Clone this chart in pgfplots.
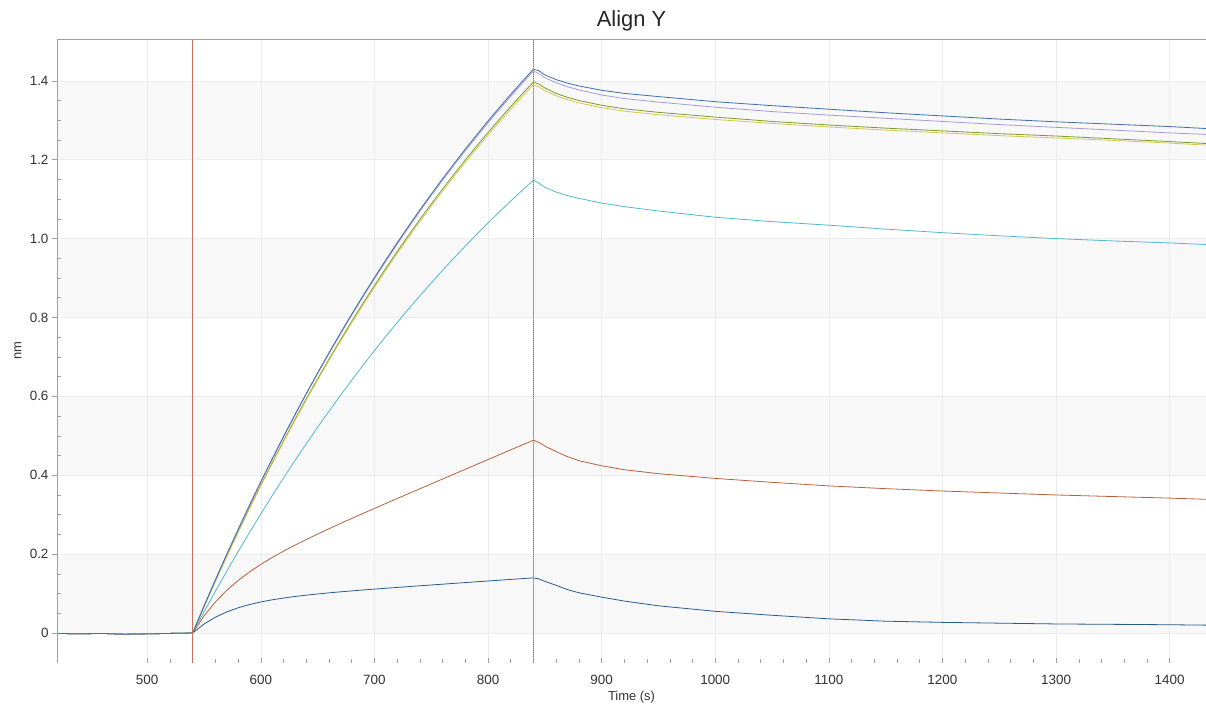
\documentclass[border=0pt]{standalone}
\usepackage{fontspec}
\setmainfont{Liberation Sans}
\usepackage{pgfplots}
\pgfplotsset{compat=1.18}
\definecolor{cBlue}{HTML}{3D6FA8}
\definecolor{cPurple}{HTML}{A898D8}
\definecolor{cGreen}{HTML}{7A9A30}
\definecolor{cYellow}{HTML}{D4C84A}
\definecolor{cCyan}{HTML}{50B8D0}
\definecolor{cOrange}{HTML}{B8603C}
\definecolor{cNavy}{HTML}{2A5A8A}
\definecolor{cBand}{HTML}{F8F8F8}
\definecolor{cGrid}{HTML}{ECECEC}
\definecolor{cAxis}{HTML}{A0A0A0}
\definecolor{cText}{HTML}{333333}
\definecolor{cRed}{HTML}{C8705E}
\definecolor{cRedL}{HTML}{E0B0A0}
\definecolor{cRed2}{HTML}{D2691E}
\begin{document}
\begin{tikzpicture}
\begin{axis}[
  at={(57bp,43bp)}, anchor=south west,
  scale only axis, width=1149bp, height=624bp,
  set layers=standard,
  xmin=420.6, xmax=1432, ymin=-0.076, ymax=1.506,
  axis line style={draw=none},
  xtick={500,600,...,1400},
  xticklabels={500,600,700,800,900,1000,1100,1200,1300,1400},
  ytick={0,0.2,0.4,0.6,0.8,1.0,1.2,1.4},
  yticklabels={0,0.2,0.4,0.6,0.8,1.0,1.2,1.4},
  minor x tick num=4, minor y tick num=3,
  xtick pos=bottom, ytick pos=left,
  xtick align=inside, ytick align=outside,
  major tick length=5bp, minor tick length=4bp,
  minor y tick style={xshift=4bp},
  every tick/.style={cAxis, line width=0.5bp},
  xmajorgrids, ymajorgrids,
  major grid style={cGrid, line width=0.5bp},
  tick label style={font=\fontsize{13.5}{16}\selectfont, text=cText},
  /pgf/number format/assume math mode=true,
  xticklabel style={anchor=base, yshift=-21bp},
  title={Align Y},
  title style={font=\fontsize{22}{26}\selectfont, text=black!85, anchor=base, yshift=7bp},
  xlabel={Time (s)},
  xlabel style={font=\fontsize{13}{16}\selectfont, text=cText, at={(axis description cs:0.5,0)}, anchor=base, yshift=-37bp},
  ylabel={nm},
  ylabel style={font=\fontsize{13}{16}\selectfont, text=cText, at={(axis description cs:-0.034,0.5)}, anchor=center},
  every axis plot/.append style={line width=0.8bp},
]
\begin{pgfonlayer}{axis background}
\fill[cBand] (axis cs:420.6,0) rectangle (axis cs:1432,0.2);
\fill[cBand] (axis cs:420.6,0.4) rectangle (axis cs:1432,0.6);
\fill[cBand] (axis cs:420.6,0.8) rectangle (axis cs:1432,1.0);
\fill[cBand] (axis cs:420.6,1.2) rectangle (axis cs:1432,1.4);
\end{pgfonlayer}

% Navy (lowest)
\addplot[cNavy] coordinates {
(420.6,-0.001)(440,-0.002)(460,-0.001)(480,-0.003)(500,-0.002)(520,-0.001)(540,0)
(550,0.0227)(560,0.0401)(570,0.0535)(580,0.0639)(590,0.0722)(600,0.0788)(610,0.0842)(620,0.0887)(630,0.0926)(640,0.0960)
(650,0.0990)(660,0.1018)(670,0.1044)(680,0.1068)(690,0.1091)(700,0.1113)(710,0.1135)(720,0.1156)(730,0.1177)(740,0.1198)
(750,0.1218)(760,0.1238)(770,0.1259)(780,0.1279)(790,0.1299)(800,0.1319)(810,0.1339)(820,0.1359)(830,0.1379)(840,0.1399)
(845,0.137)(850,0.131)(860,0.121)(870,0.110)(880,0.102)(900,0.091)(920,0.081)(950,0.069)(1000,0.055)(1050,0.045)
(1100,0.036)(1150,0.030)(1200,0.027)(1250,0.025)(1300,0.023)(1350,0.022)(1400,0.021)(1432,0.020)
};
% Orange
\addplot[cOrange] coordinates {
(420.6,-0.001)(440,-0.002)(460,-0.001)(480,-0.003)(500,-0.002)(520,-0.001)(540,0)
(550,0.0434)(560,0.0787)(570,0.1081)(580,0.1331)(590,0.1547)(600,0.1740)(610,0.1914)(620,0.2075)(630,0.2226)(640,0.2370)
(650,0.2509)(660,0.2643)(670,0.2775)(680,0.2904)(690,0.3032)(700,0.3158)(710,0.3284)(720,0.3409)(730,0.3533)(740,0.3657)
(750,0.3781)(760,0.3904)(770,0.4028)(780,0.4151)(790,0.4275)(800,0.4398)(810,0.4521)(820,0.4644)(830,0.4767)(840,0.4890)
(845,0.483)(850,0.474)(860,0.460)(870,0.447)(880,0.437)(900,0.424)(920,0.414)(950,0.404)(1000,0.392)(1050,0.382)
(1100,0.373)(1150,0.366)(1200,0.360)(1250,0.355)(1300,0.350)(1350,0.346)(1400,0.342)(1432,0.339)
};
% Cyan
\addplot[cCyan] coordinates {
(420.6,-0.001)(440,-0.002)(460,-0.001)(480,-0.003)(500,-0.002)(520,-0.001)(540,0)
(550,0.0535)(560,0.1056)(570,0.1565)(580,0.2062)(590,0.2546)(600,0.3019)(610,0.3480)(620,0.3930)(630,0.4369)(640,0.4798)
(650,0.5216)(660,0.5624)(670,0.6022)(680,0.6410)(690,0.6789)(700,0.7158)(710,0.7519)(720,0.7871)(730,0.8214)(740,0.8549)
(750,0.8876)(760,0.9195)(770,0.9506)(780,0.9810)(790,1.0106)(800,1.0395)(810,1.0677)(820,1.0952)(830,1.1220)(840,1.1482)
(845,1.140)(850,1.130)(860,1.118)(870,1.109)(880,1.102)(900,1.090)(920,1.081)(950,1.070)(1000,1.054)(1050,1.043)
(1100,1.034)(1150,1.024)(1200,1.015)(1250,1.007)(1300,1.000)(1350,0.994)(1400,0.989)(1432,0.985)
};
% Green
\addplot[cGreen] coordinates {
(420.6,-0.001)(440,-0.002)(460,-0.001)(480,-0.003)(500,-0.002)(520,-0.001)(540,0)
(550,0.0668)(560,0.1317)(570,0.1949)(580,0.2565)(590,0.3165)(600,0.3750)(610,0.4318)(620,0.4872)(630,0.5411)(640,0.5936)
(650,0.6448)(660,0.6945)(670,0.7430)(680,0.7902)(690,0.8362)(700,0.8809)(710,0.9245)(720,0.9669)(730,1.0083)(740,1.0486)
(750,1.0878)(760,1.1259)(770,1.1630)(780,1.1993)(790,1.2345)(800,1.2688)(810,1.3022)(820,1.3348)(830,1.3665)(840,1.3972)
(845,1.391)(850,1.382)(860,1.368)(870,1.358)(880,1.350)(900,1.338)(920,1.329)(950,1.320)(1000,1.308)(1050,1.297)
(1100,1.288)(1150,1.280)(1200,1.273)(1250,1.266)(1300,1.260)(1350,1.253)(1400,1.246)(1432,1.241)
};
% Yellow
\addplot[cYellow] coordinates {
(420.6,-0.001)(440,-0.002)(460,-0.001)(480,-0.003)(500,-0.002)(520,-0.001)(540,0)
(550,0.0664)(560,0.1310)(570,0.1939)(580,0.2552)(590,0.3149)(600,0.3731)(610,0.4296)(620,0.4847)(630,0.5383)(640,0.5906)
(650,0.6415)(660,0.6910)(670,0.7392)(680,0.7862)(690,0.8319)(700,0.8764)(710,0.9198)(720,0.9620)(730,1.0031)(740,1.0432)
(750,1.0822)(760,1.1201)(770,1.1571)(780,1.1932)(790,1.2282)(800,1.2623)(810,1.2956)(820,1.3279)(830,1.3595)(840,1.3901)
(845,1.384)(850,1.375)(860,1.362)(870,1.352)(880,1.344)(900,1.332)(920,1.323)(950,1.314)(1000,1.302)(1050,1.292)
(1100,1.283)(1150,1.275)(1200,1.268)(1250,1.261)(1300,1.255)(1350,1.249)(1400,1.242)(1432,1.237)
};
% Purple
\addplot[cPurple] coordinates {
(420.6,-0.001)(440,-0.002)(460,-0.001)(480,-0.003)(500,-0.002)(520,-0.001)(540,0)
(550,0.0681)(560,0.1342)(570,0.1987)(580,0.2615)(590,0.3227)(600,0.3823)(610,0.4402)(620,0.4967)(630,0.5516)(640,0.6052)
(650,0.6573)(660,0.7080)(670,0.7574)(680,0.8056)(690,0.8524)(700,0.8980)(710,0.9425)(720,0.9857)(730,1.0279)(740,1.0689)
(750,1.1089)(760,1.1478)(770,1.1856)(780,1.2226)(790,1.2585)(800,1.2935)(810,1.3275)(820,1.3607)(830,1.3930)(840,1.4244)
(845,1.418)(850,1.408)(860,1.395)(870,1.385)(880,1.377)(900,1.364)(920,1.355)(950,1.346)(1000,1.333)(1050,1.322)
(1100,1.313)(1150,1.305)(1200,1.297)(1250,1.289)(1300,1.282)(1350,1.275)(1400,1.268)(1432,1.264)
};
% Blue (top)
\addplot[cBlue] coordinates {
(420.6,-0.001)(440,-0.002)(460,-0.001)(480,-0.003)(500,-0.002)(520,-0.001)(540,0)
(550,0.0683)(560,0.1347)(570,0.1994)(580,0.2624)(590,0.3238)(600,0.3836)(610,0.4417)(620,0.4984)(630,0.5535)(640,0.6073)
(650,0.6596)(660,0.7105)(670,0.7601)(680,0.8084)(690,0.8554)(700,0.9012)(710,0.9458)(720,0.9892)(730,1.0315)(740,1.0727)
(750,1.1128)(760,1.1518)(770,1.1898)(780,1.2269)(790,1.2629)(800,1.2980)(810,1.3322)(820,1.3655)(830,1.3979)(840,1.4294)
(845,1.425)(850,1.415)(860,1.403)(870,1.394)(880,1.387)(900,1.376)(920,1.368)(950,1.360)(1000,1.347)(1050,1.337)
(1100,1.328)(1150,1.319)(1200,1.311)(1250,1.303)(1300,1.296)(1350,1.290)(1400,1.284)(1432,1.279)
};
% step markers
\addplot[cRed, line width=0.6bp] coordinates {(540,-0.076)(540,1.506)};
\addplot[cRedL, line width=0.7bp] coordinates {(840,-0.076)(840,1.506)};
\addplot[cRed2, line width=0.7bp, dash pattern=on 1bp off 1bp] coordinates {(840,-0.076)(840,1.506)};
\draw[cAxis, line width=0.7bp] (rel axis cs:1,1) -- (rel axis cs:0,1) -- (rel axis cs:0,0) -- (rel axis cs:1,0);
\end{axis}
\pgfresetboundingbox
\path[use as bounding box] (0,0) rectangle (1206bp,706bp);
\end{tikzpicture}
\end{document}
